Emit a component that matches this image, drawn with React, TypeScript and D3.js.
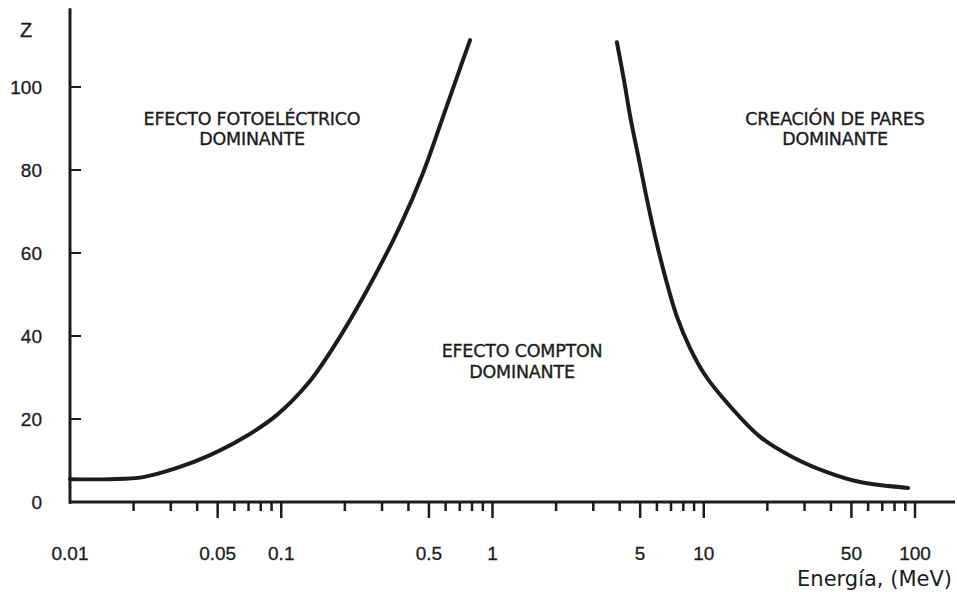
import React from "react";
import * as d3 from "d3";

// Photoelectric / Compton boundary (left curve): energy (MeV) and Z
const photoE = [0.01, 0.0155, 0.0222, 0.0321, 0.046, 0.0659, 0.0955, 0.134, 0.176, 0.255, 0.365, 0.469, 0.583, 0.679, 0.783];
const photoZ = [5.5, 5.5, 6.0, 8.2, 11.3, 15.4, 21.0, 28.6, 37.2, 51.1, 66.5, 79.3, 92.8, 102.4, 111.3];

// Compton / pair production boundary (right curve)
const pairE = [3.88, 4.19, 4.52, 4.94, 5.39, 5.94, 6.63, 7.47, 8.61, 10.14, 12.9, 18.5, 26.4, 38.3, 54.9, 92.7];
const pairZ = [110.8, 101.7, 92.0, 82.4, 72.8, 63.1, 53.5, 44.6, 37.1, 30.6, 23.9, 15.7, 10.8, 7.2, 4.8, 3.4];

// Axis ticks
const yTicks = [20, 40, 60, 80, 100];
const yTickLabels = ["0", "20", "40", "60", "80", "100"];
const yLabelValues = [0, 20, 40, 60, 80, 100];
const xLabelValues = [0.01, 0.05, 0.1, 0.5, 1, 5, 10, 50, 100];
const xLabelTexts = ["0.01", "0.05", "0.1", "0.5", "1", "5", "10", "50", "100"];
const decades = [0.01, 0.1, 1, 10];
const mults = [2, 3, 4, 5, 6, 7, 8, 9, 10];

// Region labels
const regionLines = [
  { e: 0.0727, z: 90.8, text: "EFECTO FOTOELÉCTRICO" },
  { e: 0.0727, z: 86.0, text: "DOMINANTE" },
  { e: 41.8, z: 90.8, text: "CREACIÓN DE PARES" },
  { e: 41.8, z: 86.0, text: "DOMINANTE" },
  { e: 1.38, z: 34.9, text: "EFECTO COMPTON" },
  { e: 1.38, z: 29.9, text: "DOMINANTE" },
];

export default function App() {
  const W = 957;
  const H = 592;
  const x = d3.scaleLog().domain([0.01, 100]).range([70, 915]);
  const y = d3.scaleLinear().domain([0, 100]).range([502, 87]);

  const line = d3
    .line<[number, number]>()
    .x((d) => x(d[0]))
    .y((d) => y(d[1]))
    .curve(d3.curveCatmullRom.alpha(0.5));

  const photoPath = line(photoE.map((e, i) => [e, photoZ[i]] as [number, number])) || "";
  const pairPath = line(pairE.map((e, i) => [e, pairZ[i]] as [number, number])) || "";

  const ticks: { v: number; long: boolean }[] = [];
  decades.forEach((d) => {
    mults.forEach((m) => {
      ticks.push({ v: d * m, long: m === 5 || m === 10 });
    });
  });

  const ink = "#1c1c1c";
  const numFont = "'Liberation Sans', Arial, sans-serif";
  const textFont = "'DejaVu Sans', Verdana, sans-serif";

  return (
    <svg
      width={W}
      height={H}
      viewBox={`0 0 ${W} ${H}`}
      style={{ position: "absolute", left: 0, top: 0, background: "#fff" }}
    >
      <rect x={0} y={0} width={W} height={H} fill="#fff" />
      {/* y axis */}
      <line x1={70} x2={70} y1={y(119)} y2={y(-0.4)} stroke={ink} strokeWidth={3} />
      {yTicks.map((v) => (
        <line key={"yt" + v} x1={70} x2={81} y1={y(v)} y2={y(v)} stroke={ink} strokeWidth={2} />
      ))}
      {yLabelValues.map((v, i) => (
        <text
          key={"yl" + v}
          x={42}
          y={y(v)}
          dy="0.36em"
          textAnchor="end"
          fontFamily={numFont}
          fontSize={19}
          fill={ink}
          stroke={ink}
          strokeWidth={0.3}
        >
          {yTickLabels[i]}
        </text>
      ))}
      <text x={26} y={37} textAnchor="middle" fontFamily={numFont} fontSize={20} fill={ink} stroke={ink} strokeWidth={0.3}>
        Z
      </text>

      {/* x axis */}
      <line x1={69} x2={955} y1={y(0)} y2={y(0)} stroke={ink} strokeWidth={3} />
      {ticks.map((t, i) => (
        <line
          key={"xt" + i}
          x1={x(t.v)}
          x2={x(t.v)}
          y1={y(0)}
          y2={y(0) + (t.long ? 16 : 9)}
          stroke={ink}
          strokeWidth={2.5}
        />
      ))}
      {xLabelValues.map((v, i) => (
        <text
          key={"xl" + i}
          x={x(v)}
          y={560}
          textAnchor="middle"
          fontFamily={numFont}
          fontSize={19}
          fill={ink}
          stroke={ink}
          strokeWidth={0.3}
        >
          {xLabelTexts[i]}
        </text>
      ))}
      <text x={952} y={586} textAnchor="end" fontFamily={textFont} fontSize={21} fill={ink}>
        Energía, (MeV)
      </text>

      {/* curves */}
      <path d={photoPath} fill="none" stroke={ink} strokeWidth={4} strokeLinecap="round" />
      <path d={pairPath} fill="none" stroke={ink} strokeWidth={4} strokeLinecap="round" />

      {/* region labels */}
      {regionLines.map((r, i) => (
        <text
          key={"rl" + i}
          x={x(r.e)}
          y={y(r.z)}
          textAnchor="middle"
          fontFamily={textFont}
          fontSize={17.5}
          letterSpacing={-0.2}
          fill={ink}
          stroke={ink}
          strokeWidth={0.35}
        >
          {r.text}
        </text>
      ))}
    </svg>
  );
}
